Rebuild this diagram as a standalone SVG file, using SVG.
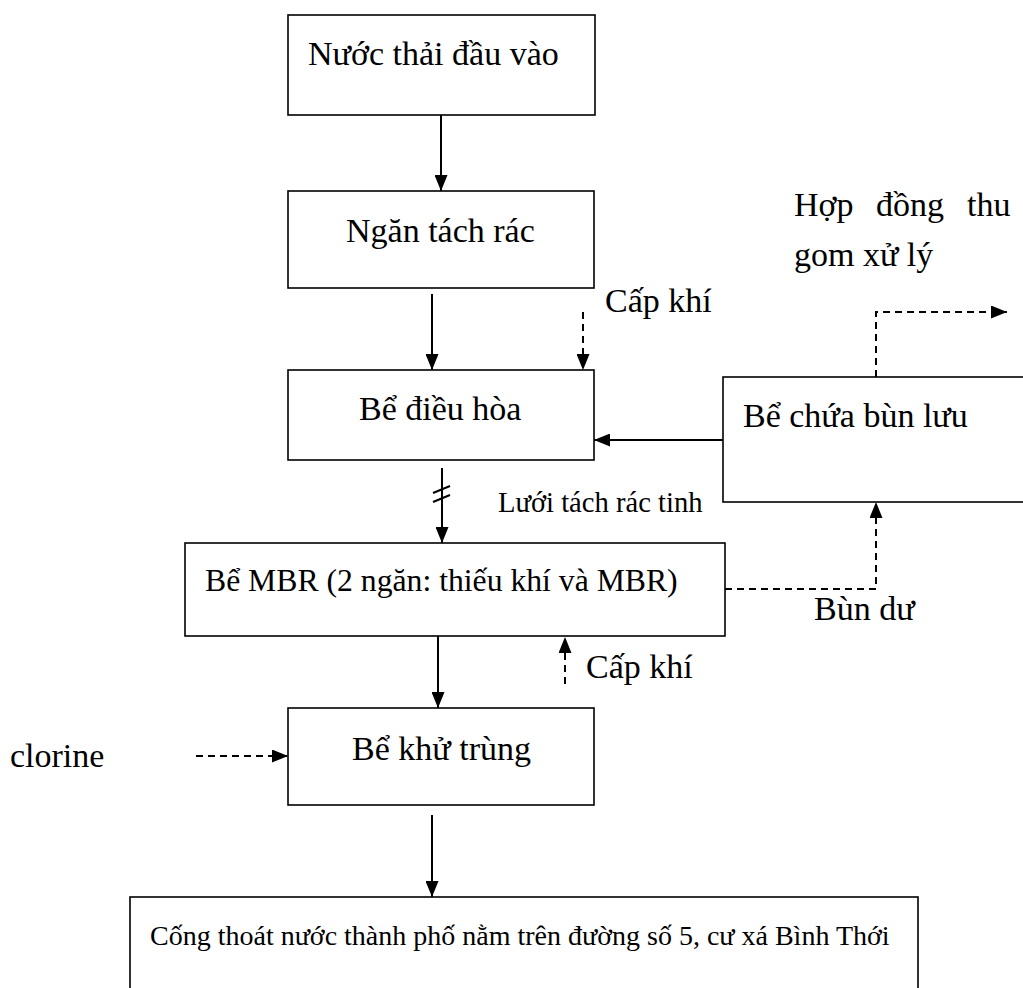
<svg xmlns="http://www.w3.org/2000/svg" width="1023" height="988" viewBox="0 0 1023 988">
<style>
text{font-family:"Liberation Serif","Times New Roman",serif;font-size:34px;fill:#000}
.small{font-size:28.6px}
.mid{font-size:31.7px}
.bottom{font-size:28px}
.box{fill:#fff;stroke:#000;stroke-width:1.6}
.ln{fill:none;stroke:#000;stroke-width:2}
.dash{stroke-dasharray:7,5}
</style>
<defs>
<marker id="ah" markerUnits="userSpaceOnUse" markerWidth="16" markerHeight="13" refX="16" refY="6.5" orient="auto">
<path d="M0,0 L16,6.5 L0,13 z" fill="#000"/>
</marker>
</defs>
<rect width="1023" height="988" fill="#fff"/>
<g id="n1"><rect class="box" x="288" y="15" width="307" height="100"/><text x="308" y="65">Nước thải đầu vào</text></g>
<g id="n2"><rect class="box" x="288" y="191" width="306" height="97"/><text x="346" y="242">Ngăn tách rác</text></g>
<g id="n3"><rect class="box" x="288" y="370" width="306" height="90"/><text x="359" y="420">Bể điều hòa</text></g>
<g id="n4"><rect class="box" x="723" y="377" width="320" height="125"/><text x="743" y="427">Bể chứa bùn lưu</text></g>
<g id="n5"><rect class="box" x="185" y="543" width="540" height="93"/><text class="mid" x="205" y="591">Bể MBR (2 ngăn: thiếu khí và MBR)</text></g>
<g id="n6"><rect class="box" x="288" y="708" width="306" height="97"/><text x="352" y="760">Bể khử trùng</text></g>
<g id="n7"><rect class="box" x="130" y="897" width="788" height="110"/><text class="bottom" x="150" y="945">Cống thoát nước thành phố nằm trên đường số 5, cư xá Bình Thới</text></g>
<g id="labels">
<text x="605" y="312">Cấp khí</text>
<text x="586" y="678">Cấp khí</text>
<text x="10" y="767">clorine</text>
<text x="814" y="620">Bùn dư</text>
<text class="small" x="498" y="512">Lưới tách rác tinh</text>
<text y="216"><tspan x="794">Hợp</tspan><tspan x="876">đồng</tspan><tspan x="967">thu</tspan></text>
<text x="794" y="266">gom xử lý</text>
</g>
<g id="connectors">
<line class="ln" x1="441" y1="115" x2="441" y2="191" marker-end="url(#ah)"/>
<line class="ln" x1="432" y1="294" x2="432" y2="370" marker-end="url(#ah)"/>
<line class="ln dash" x1="583" y1="312" x2="583" y2="370" marker-end="url(#ah)"/>
<line class="ln" x1="723" y1="440" x2="594" y2="440" marker-end="url(#ah)"/>
<polyline class="ln dash" points="876,377 876,312 1007,312" marker-end="url(#ah)"/>
<line class="ln" x1="442" y1="468" x2="442" y2="543" marker-end="url(#ah)"/>
<line class="ln" x1="433" y1="493" x2="450" y2="486"/>
<line class="ln" x1="433" y1="502" x2="450" y2="495"/>
<polyline class="ln dash" points="725,589 876,589 876,502" marker-end="url(#ah)"/>
<line class="ln" x1="438" y1="636" x2="438" y2="708" marker-end="url(#ah)"/>
<line class="ln dash" x1="565" y1="684" x2="565" y2="637" marker-end="url(#ah)"/>
<line class="ln dash" x1="196" y1="756" x2="288" y2="756" marker-end="url(#ah)"/>
<line class="ln" x1="432" y1="815" x2="432" y2="897" marker-end="url(#ah)"/>
</g>
</svg>
